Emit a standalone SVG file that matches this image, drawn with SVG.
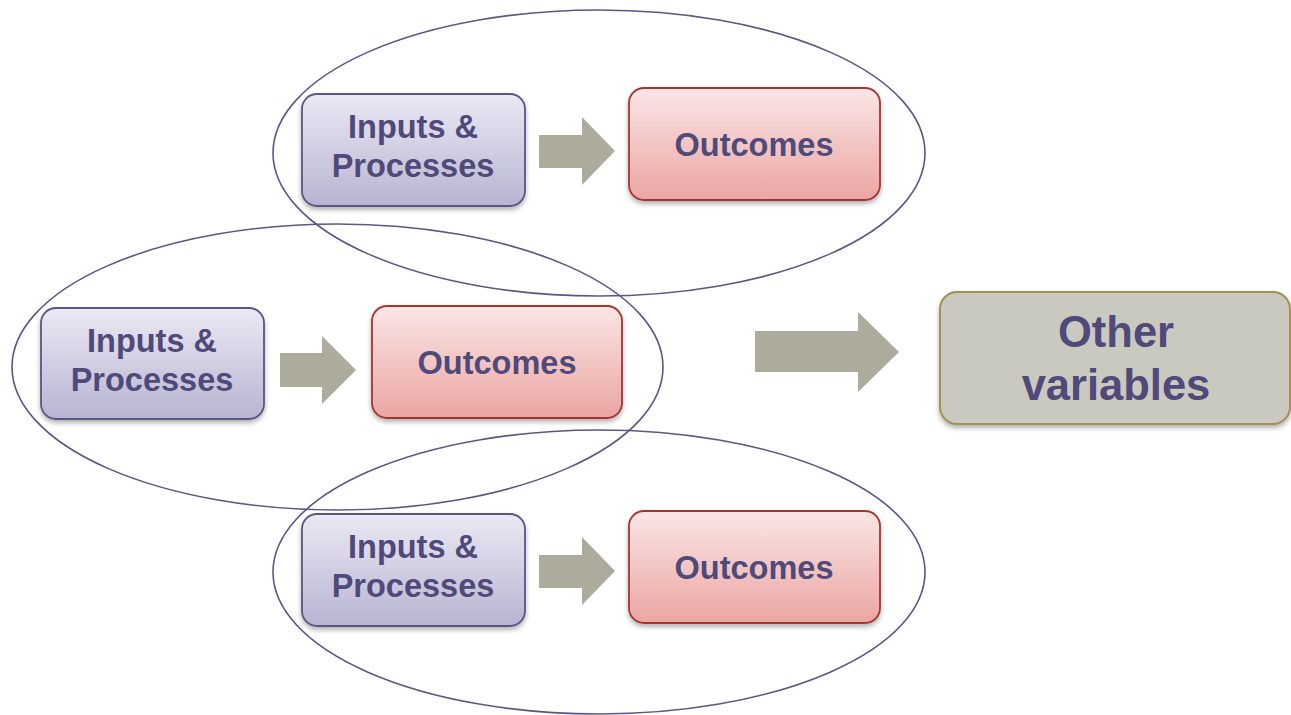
<svg xmlns="http://www.w3.org/2000/svg" width="1291" height="715" viewBox="0 0 1291 715">
<defs>
<linearGradient id="gIn" x1="0" y1="0" x2="0" y2="1"><stop offset="0" stop-color="#ebe9f4"/><stop offset="1" stop-color="#b7b4d1"/></linearGradient>
<linearGradient id="gOut" x1="0" y1="0" x2="0" y2="1"><stop offset="0" stop-color="#fae6e5"/><stop offset="1" stop-color="#eaa5a3"/></linearGradient>
<filter id="sh" x="-10%" y="-10%" width="120%" height="130%"><feDropShadow dx="0" dy="3" stdDeviation="2.5" flood-color="#000" flood-opacity="0.3"/></filter>
<style>
.ell{fill:none;stroke:#5a5785;stroke-width:1.6}
.inp{fill:url(#gIn);stroke:#5a5785;stroke-width:1.8;filter:url(#sh)}
.out{fill:url(#gOut);stroke:#a5362d;stroke-width:1.8;filter:url(#sh)}
.oth{fill:#c9c9bf;stroke:#a88f52;stroke-width:2;filter:url(#sh)}
.arr{fill:#adab9c}
.t{font-family:"Liberation Sans",Arial,sans-serif;font-weight:bold;fill:#4f4a7a;text-anchor:middle;font-size:32.5px}
.tb{font-size:43.5px}
</style>
</defs>
<g id="ellipses">
<ellipse class="ell" cx="599" cy="153" rx="326" ry="143"/>
<ellipse class="ell" cx="337.5" cy="367" rx="325.5" ry="143"/>
<ellipse class="ell" cx="599" cy="572" rx="326" ry="142"/>
</g>
<g id="connectors">
<polygon class="arr" points="539,135 582,135 582,117 615,151 582,185 582,168 539,168"/>
<polygon class="arr" points="280,353 322,353 322,336 356,370 322,404 322,387 280,387"/>
<polygon class="arr" points="539,555 582,555 582,537 615,571 582,605 582,588 539,588"/>
<polygon class="arr" points="755,331 858,331 858,312 899,352 858,392 858,372 755,372"/>
</g>
<g id="in1"><rect class="inp" x="302" y="94" width="223" height="112" rx="15"/><text class="t" x="413" y="138">Inputs &amp;</text><text class="t" x="413" y="177">Processes</text></g>
<g id="out1"><rect class="out" x="629" y="88" width="251" height="112" rx="15"/><text class="t" x="754" y="156">Outcomes</text></g>
<g id="in2"><rect class="inp" x="41" y="308" width="223" height="111" rx="15"/><text class="t" x="152" y="352">Inputs &amp;</text><text class="t" x="152" y="391">Processes</text></g>
<g id="out2"><rect class="out" x="372" y="306" width="250" height="112" rx="15"/><text class="t" x="497" y="374">Outcomes</text></g>
<g id="in3"><rect class="inp" x="302" y="514" width="223" height="112" rx="15"/><text class="t" x="413" y="558">Inputs &amp;</text><text class="t" x="413" y="597">Processes</text></g>
<g id="out3"><rect class="out" x="629" y="511" width="251" height="112" rx="15"/><text class="t" x="754" y="579">Outcomes</text></g>
<g id="other"><rect class="oth" x="940" y="292" width="350" height="132" rx="17"/><text class="t tb" x="1116" y="347">Other</text><text class="t tb" x="1116" y="400">variables</text></g>
</svg>
